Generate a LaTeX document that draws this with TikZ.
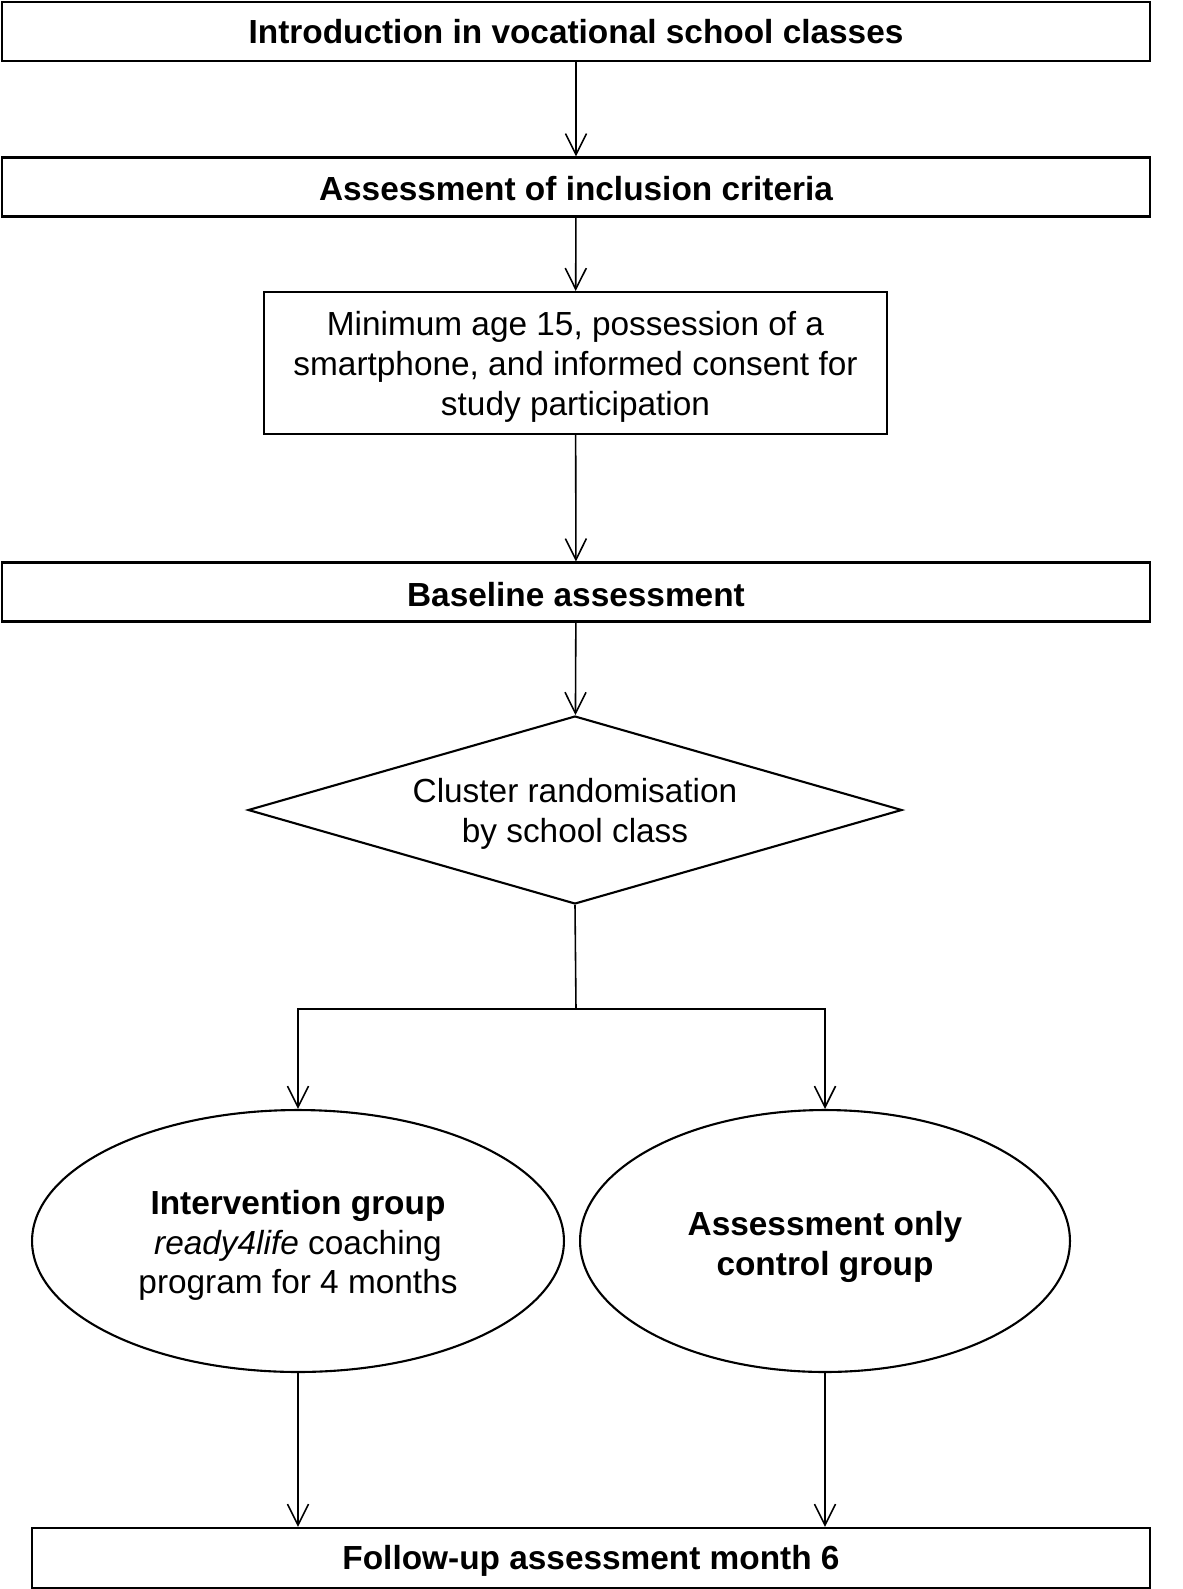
\documentclass[tikz,border=0pt]{standalone}
\usepackage{fontspec}
\setmainfont{Liberation Sans}
\usepackage{tikz}
\usetikzlibrary{shapes.geometric,arrows.meta}
\tikzset{>={Straight Barb[length=12pt,width=12pt]}}
\tikzset{
	wide/.style={draw,line width=1.2pt,inner sep=0pt,minimum height=1.18cm,font=\fontsize{19}{22.7}\selectfont\bfseries},
	crit/.style={draw,line width=1.2pt,inner sep=0pt,align=center,minimum width=12.46cm,minimum height=2.84cm,font=\fontsize{19}{22.7}\selectfont},
	rnd/.style={draw,diamond,aspect=3.48,line width=1.2pt,inner sep=0pt,align=center,minimum width=13.08cm,minimum height=3.76cm,font=\fontsize{19}{22.7}\selectfont},
	grp/.style={draw,ellipse,line width=1.2pt,inner sep=0pt,align=center,minimum height=5.24cm,font=\fontsize{19}{22.7}\selectfont},
	conn/.style={->,line width=0.9pt}
}
\newcommand{\capstrut}[1]{\rule{0pt}{#1}}

\begin{document}
\begin{tikzpicture}[x=0.02cm,y=-0.02cm]
		\useasboundingbox (0,0) rectangle (1183,1589);
		\node[wide,minimum width=22.96cm] (intro) at (576,31.5) {Introduction in vocational school classes};
		\node[wide,minimum width=22.96cm] (incl) at (576,187) {\capstrut{15pt}Assessment of inclusion criteria};
		\node[crit] (age) at (575.5,363) {\capstrut{18.4pt}Minimum age 15, possession of a\\smartphone, and informed consent for\\study participation};
		\node[wide,minimum width=22.96cm] (base) at (576,592) {\capstrut{16.2pt}Baseline assessment};
		\node[rnd] (rand) at (575,810) {\capstrut{18.4pt}Cluster randomisation\\by school class};
		\coordinate (fork) at (576,1009);
		\node[grp,minimum width=10.64cm] (interv) at (298,1241) {\capstrut{18.8pt}\textbf{Intervention group}\\\textit{ready4life} coaching\\program for 4 months};
		\node[grp,minimum width=9.8cm] (ctrl) at (825,1241) {\capstrut{20.7pt}\textbf{Assessment only}\\\textbf{control group}};
		\node[wide,minimum width=22.36cm,minimum height=1.2cm] (follow) at (591,1558) {\capstrut{17.3pt}Follow-up assessment month 6};
		\draw[conn] (intro) -- (incl);
		\draw[conn] (incl) -- (age);
		\draw[conn] (age) -- (base);
		\draw[conn] (base) -- (rand);
		\draw[line width=0.9pt] (rand.south) -- (fork);
		\draw[conn] (fork) -| (interv.north);
		\draw[conn] (fork) -| (ctrl.north);
		\draw[conn] (interv.south) -- (interv.south |- follow.north);
		\draw[conn] (ctrl.south) -- (ctrl.south |- follow.north);
\end{tikzpicture}
\end{document}
